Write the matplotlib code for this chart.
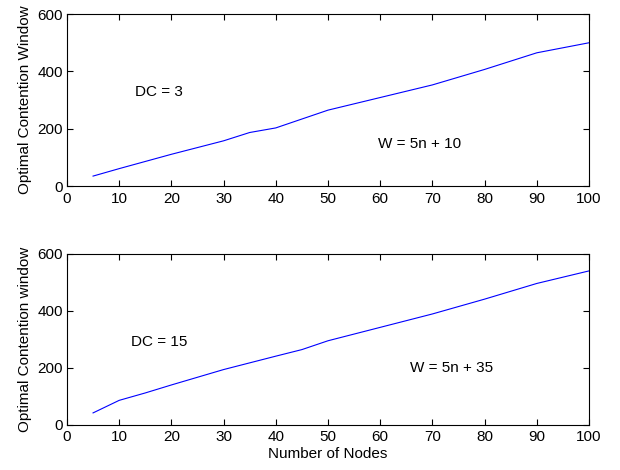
import matplotlib
matplotlib.use('Agg')
import matplotlib.pyplot as plt

plt.rcParams['font.family'] = ['Liberation Sans', 'DejaVu Sans']

# top panel, DC = 3
nodes_top = [5, 10, 20, 30, 35, 40, 50, 60, 70, 80, 90, 100]
cw_top = [35, 61, 111, 158, 187, 203, 265, 309, 353, 407, 465, 500]

# bottom panel, DC = 15
nodes_bot = [5, 10, 15, 20, 30, 40, 45, 50, 60, 70, 80, 90, 100]
cw_bot = [42, 86, 112, 140, 194, 241, 264, 295, 342, 389, 441, 496, 540]

xticks = list(range(0, 101, 10))
yticks = [0, 200, 400, 600]

fig = plt.figure(figsize=(6.2, 4.7), dpi=100)
ax1 = fig.add_axes([0.108, 0.604, 0.842, 0.366])
ax2 = fig.add_axes([0.108, 0.096, 0.842, 0.364])

panels = [
    (ax1, nodes_top, cw_top, 'Optimal Contention Window', 'DC = 3', (13, 327), 'W = 5n + 10', (59.5, 146)),
    (ax2, nodes_bot, cw_bot, 'Optimal Contention window', 'DC = 15', (12.2, 292), 'W = 5n + 35', (65.7, 200)),
]

for ax, x, y, ylab, t1, p1, t2, p2 in panels:
    ax.plot(x, y, color='#0000ff', linewidth=0.8)
    ax.set_xlim(0, 100)
    ax.set_ylim(0, 600)
    ax.set_xticks(xticks)
    ax.set_yticks(yticks)
    ax.tick_params(direction='in', top=True, right=True, length=4, width=0.8, labelsize=11, pad=3)
    ax.tick_params(axis='x', pad=4)
    for s in ax.spines.values():
        s.set_linewidth(0.8)
    ax.set_ylabel(ylab, fontsize=11, labelpad=4)
    ax.text(p1[0], p1[1], t1, fontsize=11, va='center', ha='left')
    ax.text(p2[0], p2[1], t2, fontsize=11, va='center', ha='left')

ax2.set_xlabel('Number of Nodes', fontsize=11, labelpad=2)

fig.savefig('out.png', dpi=100)
